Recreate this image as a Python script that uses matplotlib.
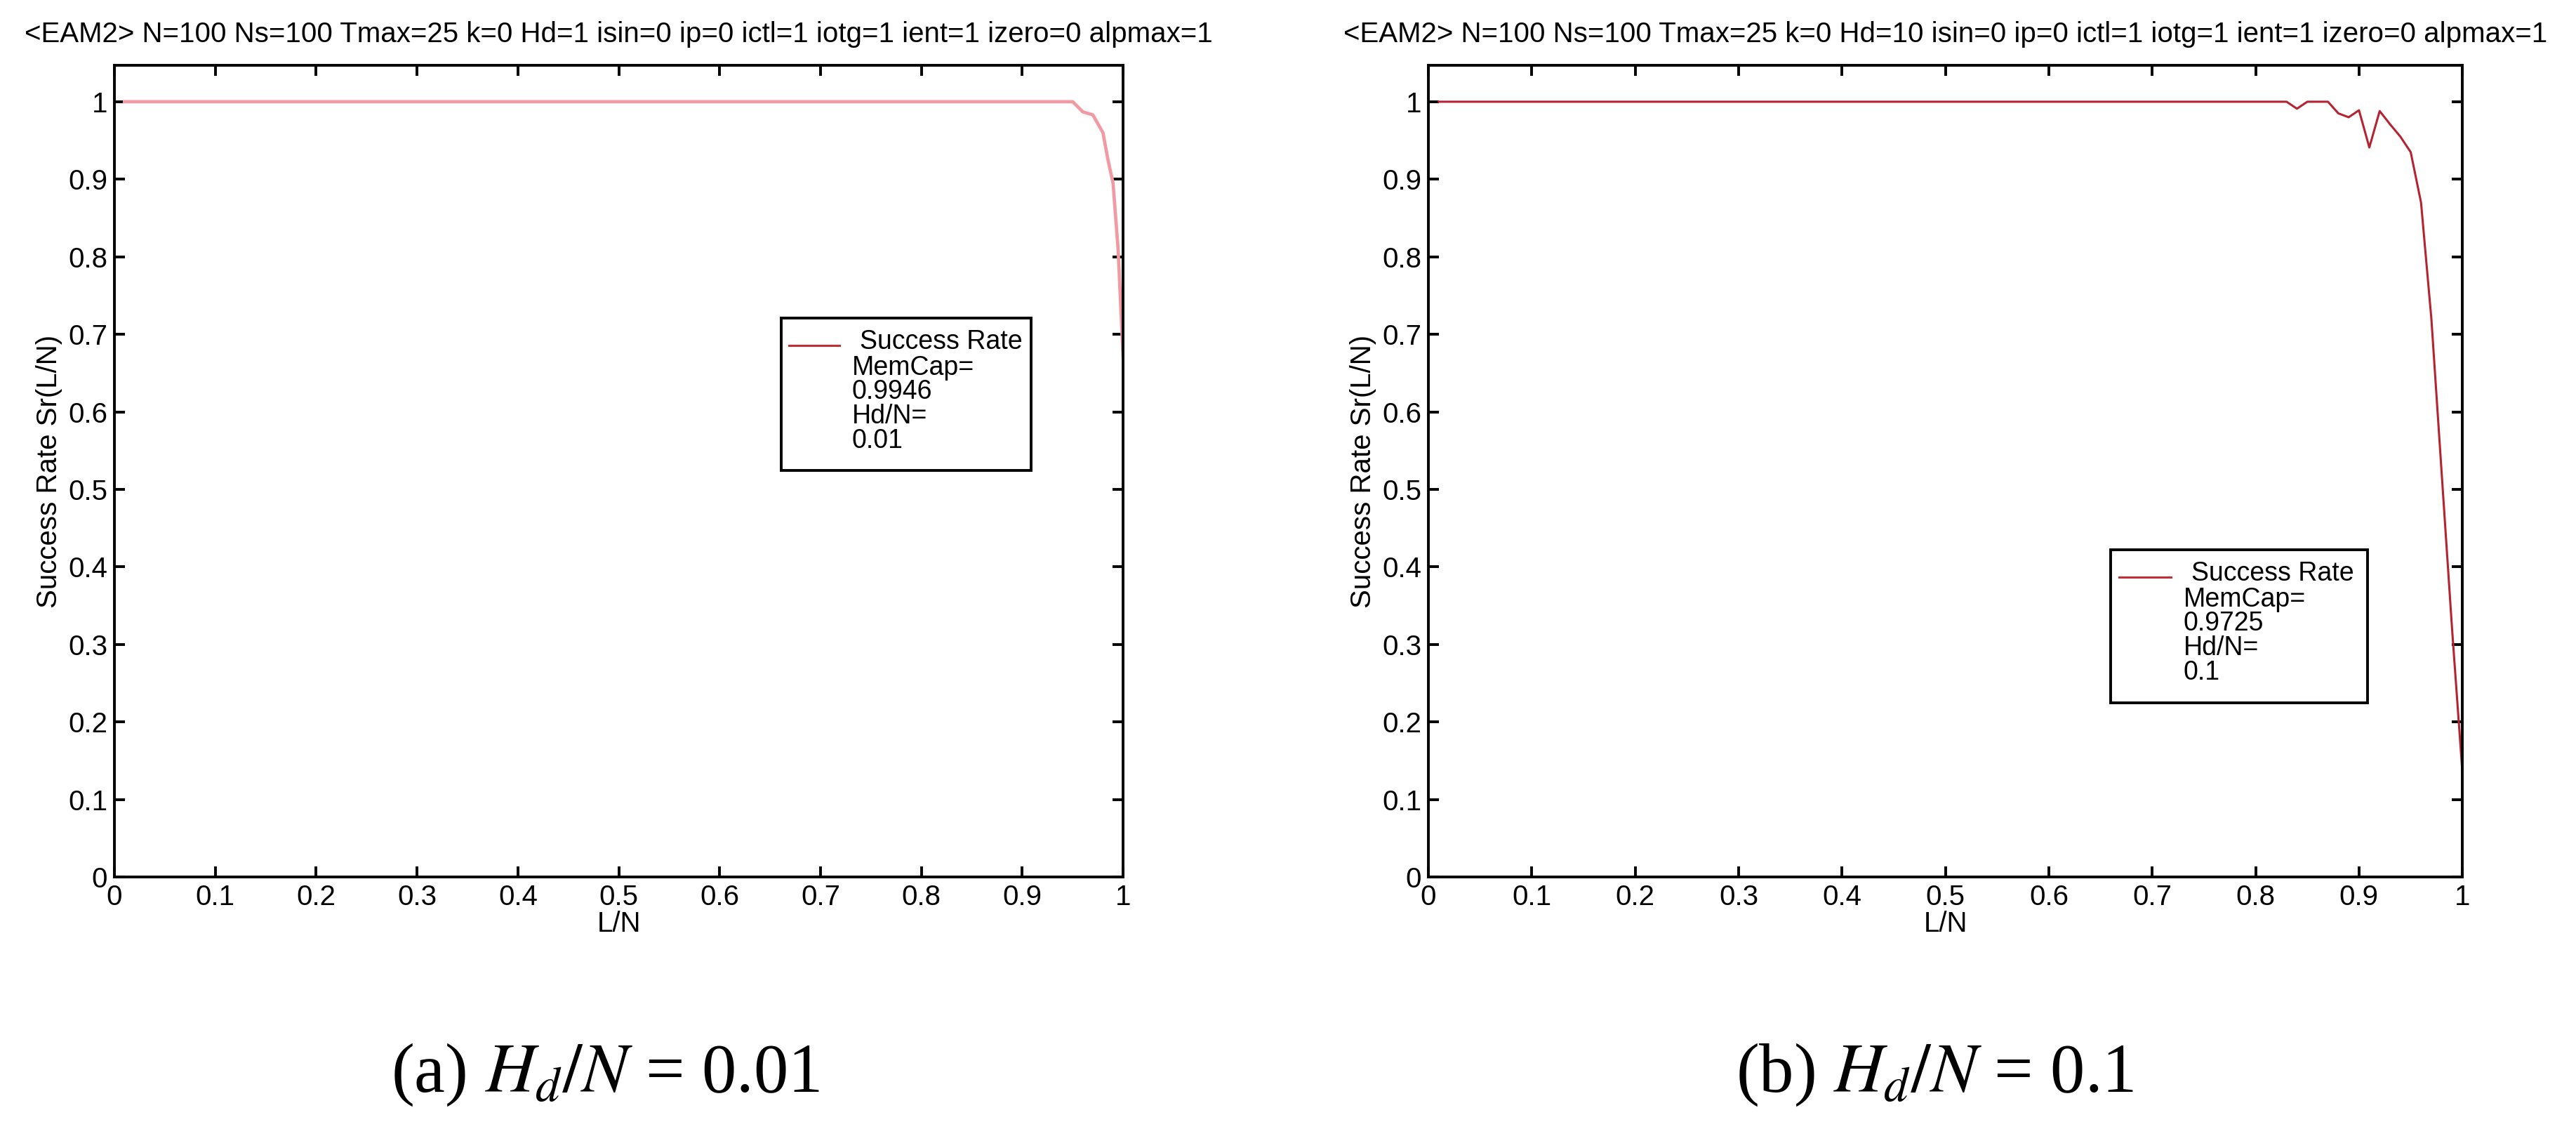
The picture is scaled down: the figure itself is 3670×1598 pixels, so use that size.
import matplotlib
matplotlib.use("Agg")
import matplotlib.pyplot as plt
import matplotlib.font_manager as fm
from matplotlib.patches import Rectangle

# success rate curves (L/N vs Sr)
left_x = [0.01, 0.95, 0.96, 0.97, 0.98, 0.985, 0.99, 0.995, 1.0]
left_y = [1.0, 1.0, 0.987, 0.983, 0.96, 0.925, 0.895, 0.81, 0.67]

right_x = [0.01, 0.83, 0.84, 0.85, 0.87, 0.88, 0.89, 0.90, 0.91, 0.92,
           0.93, 0.94, 0.95, 0.96, 0.97, 0.98, 0.99, 1.0]
right_y = [1.0, 1.0, 0.991, 1.0, 1.0, 0.985, 0.980, 0.989, 0.941, 0.988,
           0.971, 0.955, 0.935, 0.87, 0.72, 0.52, 0.32, 0.135]

ticks = [0, 0.1, 0.2, 0.3, 0.4, 0.5, 0.6, 0.7, 0.8, 0.9, 1]
tick_labels = ["0", "0.1", "0.2", "0.3", "0.4", "0.5", "0.6", "0.7", "0.8", "0.9", "1"]

titles = ["<EAM2> N=100 Ns=100 Tmax=25 k=0 Hd=1 isin=0 ip=0 ictl=1 iotg=1 ient=1 izero=0 alpmax=1",
          "<EAM2> N=100 Ns=100 Tmax=25 k=0 Hd=10 isin=0 ip=0 ictl=1 iotg=1 ient=1 izero=0 alpmax=1"]
legend_lines = [["MemCap=", "0.9946", "Hd/N=", "0.01"],
                ["MemCap=", "0.9725", "Hd/N=", "0.1"]]
captions = [r"(a) $H_d/N$ = 0.01", r"(b) $H_d/N$ = 0.1"]

names = {f.name for f in fm.fontManager.ttflist}
sans = "Liberation Sans Narrow" if "Liberation Sans Narrow" in names else "Liberation Sans"
plt.rcParams["font.family"] = [sans, "DejaVu Sans"]
plt.rcParams["mathtext.fontset"] = "stix"

fig = plt.figure(figsize=(36.7, 15.98), dpi=100)
ax1 = fig.add_axes([0.0444, 0.2184, 0.3916, 0.7234])
ax2 = fig.add_axes([0.5545, 0.2184, 0.4014, 0.7234])

ax1.plot(left_x, left_y, color="#f29aa3", lw=3.4)
ax2.plot(right_x, right_y, color="#b52330", lw=2.2)

legend_pos = [(0.661, 0.721), (0.660, 0.422)]

for i, ax in enumerate([ax1, ax2]):
    ax.set_xlim(0, 1)
    ax.set_ylim(0, 1.047)
    ax.set_xticks(ticks)
    ax.set_xticklabels(tick_labels)
    ax.set_yticks(ticks)
    ax.set_yticklabels(tick_labels)
    ax.tick_params(direction="in", length=11, width=2.8, labelsize=29,
                   top=True, right=True, pad=7)
    for s in ax.spines.values():
        s.set_linewidth(2.8)
    ax.set_xlabel("L/N", fontsize=29, labelpad=0)
    ax.set_ylabel("Success Rate Sr(L/N)", fontsize=29, labelpad=6)
    ax.set_title(titles[i], fontsize=29, pad=24)

    # MATLAB style legend box
    x0, yt = legend_pos[i]
    ax.add_patch(Rectangle((x0, yt - 0.197), 0.248, 0.197, facecolor="white",
                           edgecolor="black", lw=2.8, zorder=5))
    ax.plot([x0 + 0.008, x0 + 0.058], [yt - 0.035, yt - 0.035],
            color="#c0303a", lw=2.2, zorder=6)
    ax.text(x0 + 0.078, yt - 0.040, "Success Rate", fontsize=27,
            va="baseline", ha="left", zorder=6)
    for j, s in enumerate(legend_lines[i]):
        ax.text(x0 + 0.07, yt - 0.073 - 0.0315 * j, s, fontsize=27,
                va="baseline", ha="left", zorder=6)

fig.text(0.2349, 0.0269, captions[0], fontsize=71, family="Liberation Serif",
         ha="center", va="baseline")
fig.text(0.7510, 0.0269, captions[1], fontsize=71, family="Liberation Serif",
         ha="center", va="baseline")

fig.savefig("out.png", dpi=100, facecolor="white")
